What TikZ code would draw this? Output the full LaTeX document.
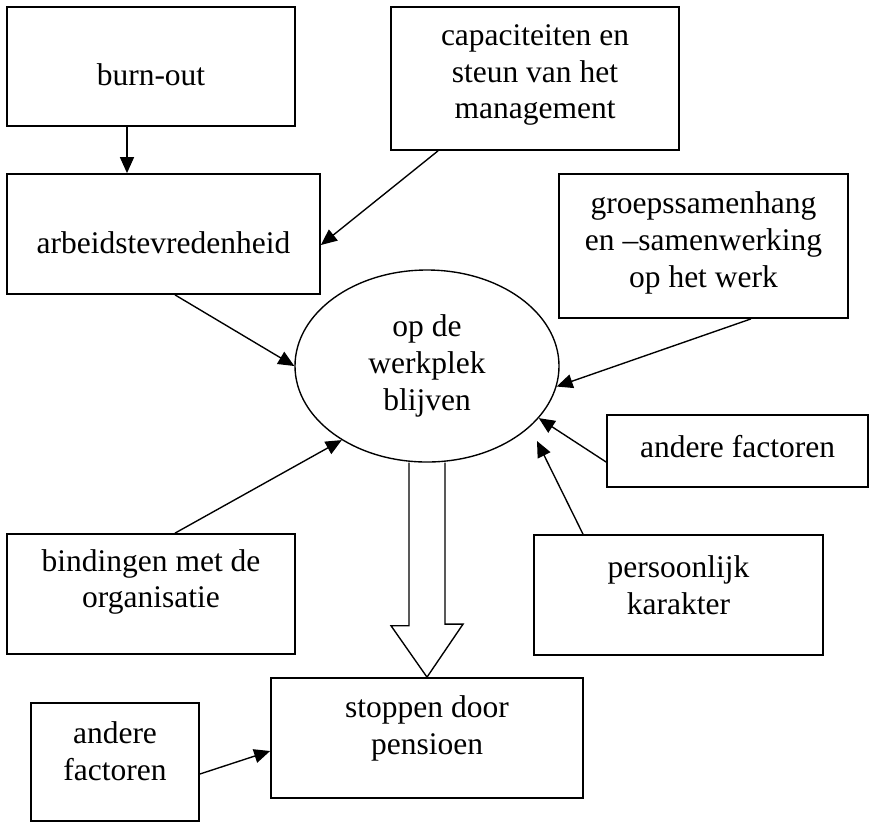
\documentclass[tikz,border=0pt]{standalone}
\usepackage{fontspec}
\setmainfont{Liberation Serif}
\usetikzlibrary{arrows.meta,shapes.geometric}

\tikzset{
  box/.style={draw, rectangle, line width=0.7pt, inner sep=0pt},
  blob/.style={draw, ellipse, line width=0.55pt, inner sep=0pt, align=center, font=\fontsize{12.6}{14.7}\selectfont},
  txt/.style={align=center, inner sep=0pt, font=\fontsize{12.6}{14.7}\selectfont},
  pijl/.style={-{Triangle[length=6.4pt,width=5.6pt]}, line width=0.55pt},
  blokpijl/.style={line width=0.55pt, line join=miter}
}

\begin{document}
\begin{tikzpicture}[x=0.4pt,y=-0.4pt]
	  \useasboundingbox (0,0) rectangle (871,822);   % page = 871 x 822 px

	  % boxes
	  \node[box, minimum width=115.2pt, minimum height=47.6pt] (burnout) at (151,66.5) {};
	  \node[box, minimum width=115.2pt, minimum height=57.2pt] (capaciteit) at (535,78.5) {};
	  \node[box, minimum width=125.2pt, minimum height=48pt] (tevreden) at (163.5,234) {};
	  \node[box, minimum width=115.6pt, minimum height=57.6pt] (groep) at (703.5,246) {};
	  \node[box, minimum width=104.4pt, minimum height=28.8pt] (anderR) at (737.5,451) {};
	  \node[box, minimum width=115.2pt, minimum height=48pt] (binding) at (151,594) {};
	  \node[box, minimum width=115.6pt, minimum height=48pt] (karakter) at (678.5,595) {};
	  \node[box, minimum width=124.8pt, minimum height=48pt] (pensioen) at (427,738) {};
	  \node[box, minimum width=67.2pt, minimum height=47.2pt] (anderL) at (115,762) {};

	  % the ellipse in the middle
	  \node[blob, minimum width=105.6pt, minimum height=76.8pt] (blijven) at (427,366) {op de\\werkplek\\blijven};

	  % texts in the boxes
	  \node[txt] (burnout-t) at ([yshift=-3.4pt]burnout.center) {burn-out};
	  \node[txt] (capaciteit-t) at ([yshift=1.4pt]capaciteit.center) {capaciteiten en\\steun van het\\management};
	  \node[txt] (tevreden-t) at ([yshift=-3.6pt]tevreden.center) {arbeidstevredenheid};
	  \node[txt] (groep-t) at ([yshift=1.2pt]groep.center) {groepssamenhang\\en –samenwerking\\op het werk};
	  \node[txt] (anderR-t) at ([yshift=1.6pt]anderR.center) {andere factoren};
	  \node[txt] (binding-t) at ([yshift=4.8pt]binding.center) {bindingen met de\\organisatie};
	  \node[txt] (karakter-t) at ([yshift=4pt]karakter.center) {persoonlijk\\karakter};
	  \node[txt] (pensioen-t) at ([yshift=3.8pt]pensioen.center) {stoppen door\\pensioen};
	  \node[txt] (anderL-t) at ([yshift=4.2pt]anderL.center) {andere\\factoren};

	  \coordinate (karakter-end) at (537,441);   % this arrow stops short of the ellipse

	  % arrows
	  \draw[pijl] ([xshift=-9.6pt]burnout.south) -- ([xshift=-9.6pt]burnout.south |- tevreden.north);
	  \draw[pijl] ([xshift=-38.8pt]capaciteit.south) -- ([yshift=-4.4pt]tevreden.east);
	  \draw[pijl] ([xshift=4.6pt]tevreden.south) -- (blijven.west);
	  \draw[pijl] ([xshift=19pt]groep.south) -- (blijven.-9);
	  \draw[pijl] ([yshift=-4.4pt]anderR.west) -- (blijven.-25);
	  \draw[pijl] ([xshift=-38.2pt]karakter.north) -- (karakter-end);
	  \draw[pijl] ([xshift=9.6pt]binding.north) -- (blijven.-139);
	  \draw[pijl] ([yshift=-4.8pt]anderL.east) -- ([yshift=-5.2pt]pensioen.west);

	  % big hollow arrow down
	  \draw[blokpijl] ([xshift=-7.2pt]blijven.south) -- ++(0,163) -- ++(-18,0) -- (pensioen.north)
	      -- ++(36,-53) -- ++(-18,0) -- ([xshift=7.2pt]blijven.south);

	\end{tikzpicture}
\end{document}
